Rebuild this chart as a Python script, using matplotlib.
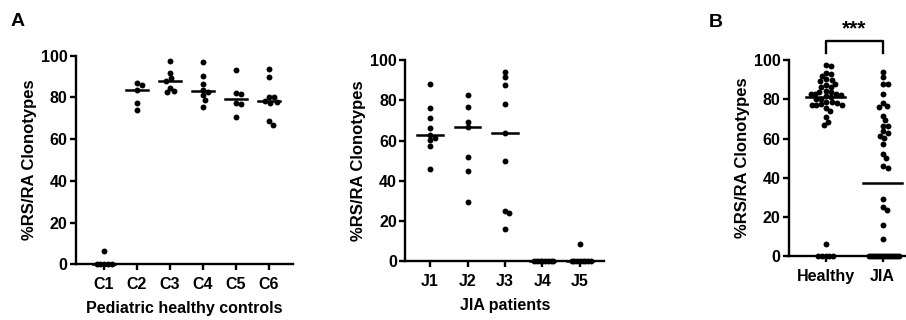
import matplotlib
matplotlib.use("Agg")
import matplotlib.pyplot as plt
import numpy as np

plt.rcParams['font.family'] = ['Liberation Sans', 'DejaVu Sans']
plt.rcParams['font.weight'] = 'bold'

# panel A, left: pediatric healthy controls
ctrl_names = ['C1', 'C2', 'C3', 'C4', 'C5', 'C6']
C1 = [6.5, 0, 0, 0, 0, 0]
C2 = [87.1, 86.0, 83.6, 77.2, 74.0]
C3 = [97.6, 91.6, 89.2, 88.0, 84.4, 82.9, 82.5]
C4 = [97.0, 90.3, 86.4, 83.5, 82.5, 81.0, 78.8, 75.5]
C5 = [93.1, 82.3, 81.6, 77.2, 77.0, 70.8]
C6 = [93.4, 90.0, 80.1, 80.0, 78.5, 78.0, 77.5, 68.5, 67.0]
ctrl_vals = [C1, C2, C3, C4, C5, C6]

# panel A, right: JIA patients
jia_names = ['J1', 'J2', 'J3', 'J4', 'J5']
J1 = [88.0, 76.3, 71.4, 66.4, 62.8, 61.4, 60.1, 57.1, 45.8]
J2 = [82.6, 76.8, 69.2, 66.6, 52.0, 45.0, 29.3]
J3 = [94.1, 91.4, 87.8, 78.2, 63.6, 50.0, 25.0, 23.8, 16.0]
J4 = [0, 0, 0, 0, 0, 0, 0, 0]
J5 = [8.6, 0, 0, 0, 0, 0, 0, 0, 0]
jia_vals = [J1, J2, J3, J4, J5]

# panel B: pooled groups
group_names = ['Healthy', 'JIA']
healthy = C1 + C2 + C3 + C4 + C5 + C6
jia = J1 + J2 + J3 + J4 + J5

W, H = 906, 320
GAP = 5.1      # min distance between dot centres, px


def swarm(vals, kx, ky, maxw):
    # simple beeswarm in pixel space, returns x offsets in data units
    order = np.argsort(vals)[::-1]
    placed = []
    offs = np.zeros(len(vals))
    uniq, counts = np.unique(vals, return_counts=True)
    ties = dict(zip(uniq, counts))
    cands = [0.0]
    for s in np.arange(0.25, 60, 0.25):
        cands += [s, -s]
    for i in order:
        y = vals[i] * ky
        n = ties[vals[i]]
        tie = min(3.6, maxw / max(n - 1, 1))
        for c in cands:
            ok = True
            for (px, py) in placed:
                need = tie if abs(py - y) < 1e-9 else GAP
                if (px - c) ** 2 + (py - y) ** 2 < need ** 2 - 1e-9:
                    ok = False
                    break
            if ok:
                break
        placed.append((c, y))
        offs[i] = c / kx
    return offs


def make_ax(left, right, top, bottom, xlim):
    ax = fig.add_axes([left / W, (H - bottom) / H, (right - left) / W, (bottom - top) / H])
    ax.set_xlim(*xlim)
    ax.set_ylim(0, 100)
    for s in ['top', 'right']:
        ax.spines[s].set_visible(False)
    for s in ['left', 'bottom']:
        ax.spines[s].set_linewidth(1.7)
    ax.set_yticks([0, 20, 40, 60, 80, 100])
    ax.tick_params(width=1.7, length=4.5, labelsize=11.5)
    ax.tick_params(axis='x', pad=5)
    ax.tick_params(axis='y', pad=1.5)
    ax.set_ylabel('%RS/RA Clonotypes', fontsize=12, fontweight='bold', labelpad=3)
    kx = (right - left) / (xlim[1] - xlim[0])
    ky = (bottom - top) / 100.0
    return ax, kx, ky


def draw_groups(ax, kx, ky, groups, names, maxw):
    for i, v in enumerate(groups):
        v = np.array(v, dtype=float)
        off = swarm(v, kx, ky, maxw)
        ax.scatter(i + off, v, s=18, color='black', zorder=3, clip_on=False, linewidths=0)
        med = np.median(v)
        ax.plot([i - 0.34, i + 0.34], [med, med], color='black', lw=1.8, zorder=4, clip_on=False)
    ax.set_xticks(range(len(names)))
    ax.set_xticklabels(names)
    for t in ax.get_xticklabels() + ax.get_yticklabels():
        t.set_fontweight('bold')


fig = plt.figure(figsize=(W / 100, H / 100), dpi=100)

ax1, kx, ky = make_ax(76, 293, 55.7, 264.3, (-0.85, 5.73))
draw_groups(ax1, kx, ky, ctrl_vals, ctrl_names, 16)
ax1.set_xlabel('Pediatric healthy controls', fontsize=11.5, fontweight='bold', labelpad=6)

ax2, kx, ky = make_ax(405.3, 604.3, 60.1, 261.3, (-0.66, 4.65))
draw_groups(ax2, kx, ky, jia_vals, jia_names, 19)
ax2.set_xlabel('JIA patients', fontsize=11.5, fontweight='bold', labelpad=6)

ax3, kx, ky = make_ax(789, 906, 60, 256.3, (-0.64, 1.41))
draw_groups(ax3, kx, ky, [healthy, jia], group_names, 30)

# significance bracket
ax3.plot([0, 0, 1, 1], [103.7, 109.7, 109.7, 103.7], color='black', lw=1.7, clip_on=False)
ax3.text(0.5, 111, '***', ha='center', va='bottom', fontsize=15, fontweight='bold')

fig.text(18 / W, 1 - 21 / H, 'A', ha='center', va='center', fontsize=14, fontweight='bold')
fig.text(716 / W, 1 - 22.5 / H, 'B', ha='center', va='center', fontsize=14, fontweight='bold')

fig.savefig('out.png', dpi=100)
